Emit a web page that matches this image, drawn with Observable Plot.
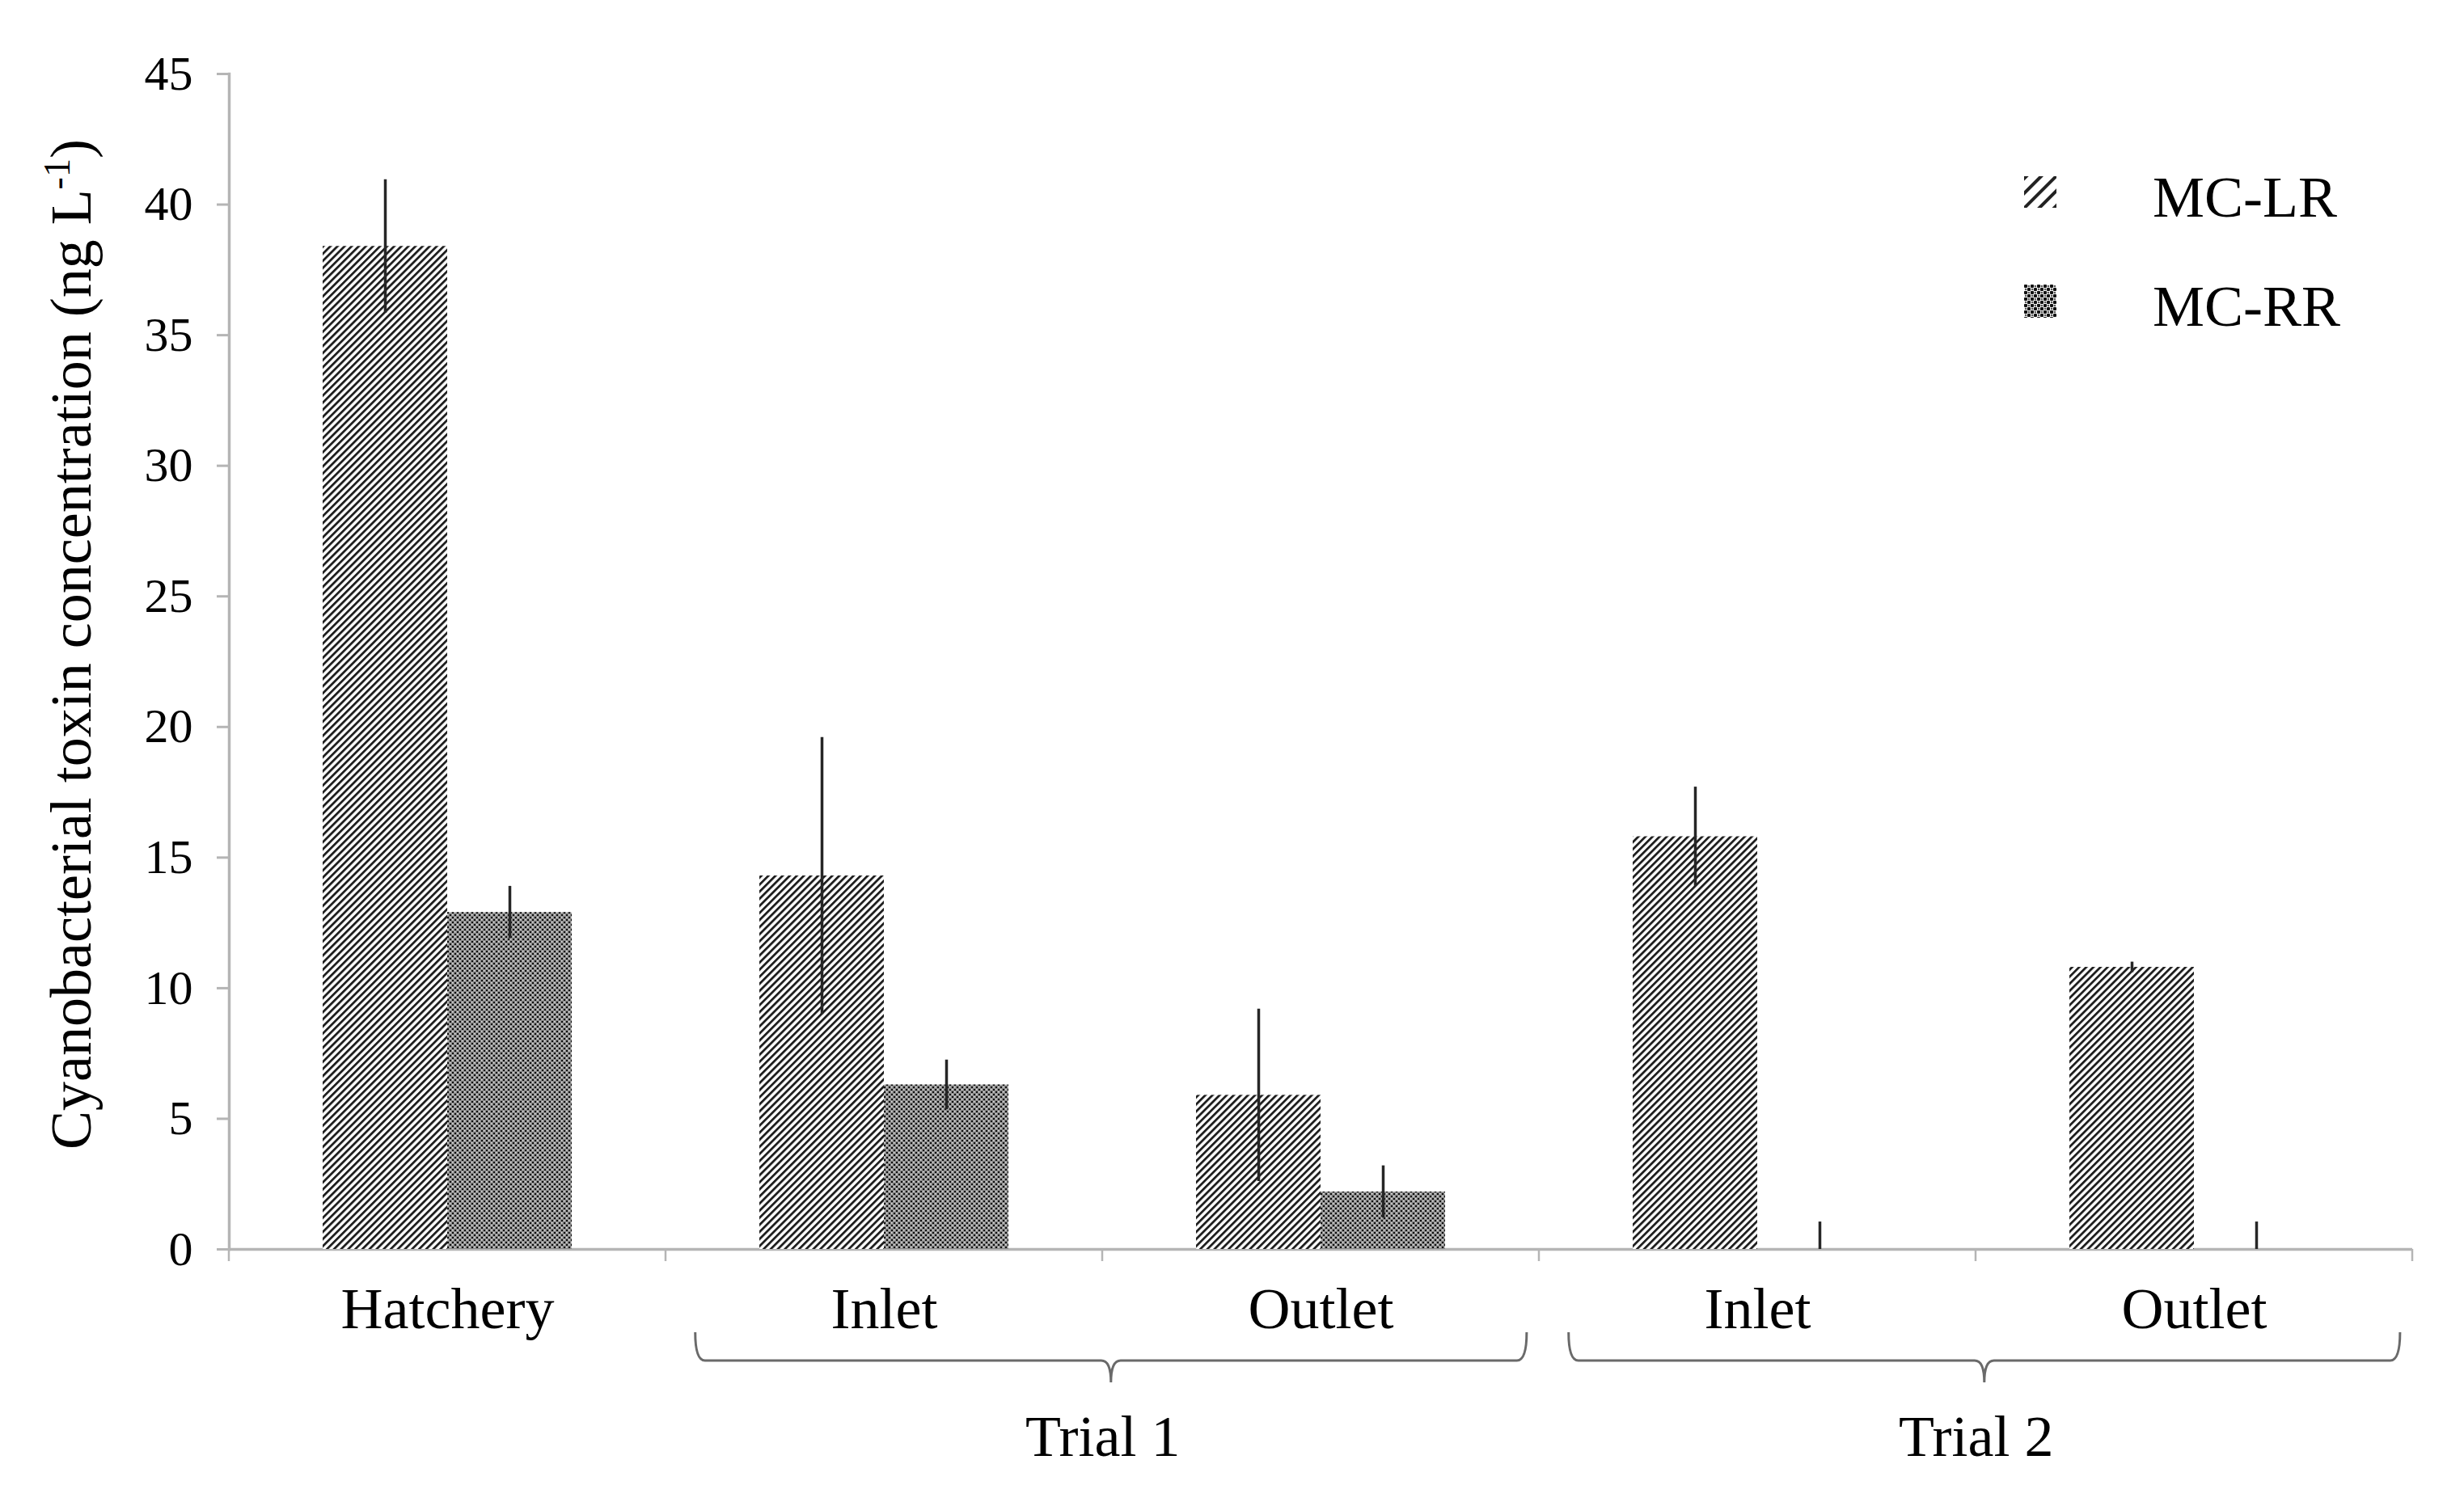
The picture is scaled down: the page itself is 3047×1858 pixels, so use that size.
<!DOCTYPE html>
<html>
<head>
<meta charset="utf-8">
<script src="https://cdn.jsdelivr.net/npm/d3@7"></script>
<script src="https://cdn.jsdelivr.net/npm/@observablehq/plot@0.6"></script>
<style>
  html, body { margin: 0; padding: 0; background: #fff; }
  svg { display: block; }
</style>
</head>
<body>
<div id="chart"></div>
<script>
// ---- data ----
const sites = ["Hatchery", "Trial 1 Inlet", "Trial 1 Outlet", "Trial 2 Inlet", "Trial 2 Outlet"];
const siteLabels = ["Hatchery", "Inlet", "Outlet", "Inlet", "Outlet"];
const toxins = ["MC-LR", "MC-RR"];
const mcLR = [38.4, 14.3, 5.9, 15.8, 10.8];
const mcLRErr = [2.55, 5.3, 3.3, 1.9, 0.2];
const mcRR = [12.9, 6.3, 2.2, 0, 0];
const mcRRErr = [1.0, 0.95, 1.0, 1.05, 1.05];
const yTicks = [0, 5, 10, 15, 20, 25, 30, 35, 40, 45];
const trials = ["Trial 1", "Trial 2"];
const trialSites = [["Trial 1 Inlet", "Trial 1 Outlet"], ["Trial 2 Inlet", "Trial 2 Outlet"]];
const yTitle = "Cyanobacterial toxin concentration (ng L";
const yTitleSup = "-1";

// ---- table built from the arrays ----
const rows = [
  ...sites.map((s, i) => ({site: s, toxin: toxins[0], value: mcLR[i], err: mcLRErr[i]})),
  ...sites.map((s, i) => ({site: s, toxin: toxins[1], value: mcRR[i], err: mcRRErr[i]}))
];
const lrRows = rows.filter(d => d.toxin === toxins[0]);
const rrRows = rows.filter(d => d.toxin === toxins[1]);

const W = 3047, H = 1858;
const axisGray = "#b5b5b5";
const FONT = "'Liberation Serif', 'Times New Roman', serif";

const chart = Plot.plot({
  width: W,
  height: H,
  marginLeft: 282,
  marginRight: 64,
  marginTop: 91,
  marginBottom: 313,
  style: {fontFamily: FONT, fontSize: "60px", color: "#000", background: "#fff"},
  fx: {domain: sites, padding: 0},
  x: {domain: toxins, paddingInner: 0, paddingOuter: 0.75, axis: null},
  y: {domain: [0, 45], axis: null},
  marks: [
    Plot.ruleY([0], {stroke: axisGray, strokeWidth: 3.5}),
    Plot.frame({anchor: "left", facet: "super", stroke: axisGray, strokeWidth: 3.5}),
    Plot.axisY({
      ticks: yTicks,
      tickSize: 15,
      tickPadding: 30,
      stroke: axisGray,
      strokeWidth: 3,
      color: "#000",
      fontSize: 60,
      label: null
    }),
    Plot.axisFx({
      anchor: "bottom",
      tickSize: 0,
      tickPadding: 46,
      fontSize: 72,
      color: "#000",
      label: null,
      tickFormat: d => siteLabels[sites.indexOf(d)]
    }),
    Plot.barY(lrRows, {fx: "site", x: "toxin", y: "value", fill: "url(#hatchLR)"}),
    Plot.barY(rrRows, {fx: "site", x: "toxin", y: "value", fill: "url(#dotsRR)"}),
    Plot.ruleX(rows, {
      fx: "site",
      x: "toxin",
      y1: d => Math.max(0, d.value - d.err),
      y2: d => d.value + d.err,
      stroke: "#262626",
      strokeWidth: 3.5
    })
  ]
});

document.getElementById("chart").appendChild(chart);

// ---- patterns ----
const svg = d3.select(chart);
const defs = svg.insert("defs", ":first-child");

const pLR = defs.append("pattern")
  .attr("id", "hatchLR").attr("patternUnits", "userSpaceOnUse")
  .attr("width", 6.2).attr("height", 6.2)
  .attr("patternTransform", "rotate(45)");
pLR.append("rect").attr("width", 6.2).attr("height", 6.2).attr("fill", "#fff");
pLR.append("rect").attr("x", 0).attr("y", 0).attr("width", 2.8).attr("height", 6.2).attr("fill", "#1e1e1e");

const pRR = defs.append("pattern")
  .attr("id", "dotsRR").attr("patternUnits", "userSpaceOnUse")
  .attr("width", 6).attr("height", 6);
pRR.append("rect").attr("width", 6).attr("height", 6).attr("fill", "#8a8a8a");
pRR.append("rect").attr("x", 0).attr("y", 0).attr("width", 2).attr("height", 2).attr("fill", "#111");
pRR.append("rect").attr("x", 3).attr("y", 3).attr("width", 2).attr("height", 2).attr("fill", "#111");
pRR.append("rect").attr("x", 3).attr("y", 0).attr("width", 1.5).attr("height", 1.5).attr("fill", "#e0e0e0");
pRR.append("rect").attr("x", 0).attr("y", 3).attr("width", 1.5).attr("height", 1.5).attr("fill", "#e0e0e0");

const pLRLeg = defs.append("pattern")
  .attr("id", "hatchLRLegend").attr("patternUnits", "userSpaceOnUse")
  .attr("width", 13).attr("height", 13)
  .attr("patternTransform", "translate(2503,218) rotate(45)");
pLRLeg.append("rect").attr("width", 13).attr("height", 13).attr("fill", "#fff");
pLRLeg.append("rect").attr("x", 0).attr("width", 4).attr("height", 13).attr("fill", "#222");

const pRRLeg = defs.append("pattern")
  .attr("id", "dotsRRLegend").attr("patternUnits", "userSpaceOnUse")
  .attr("width", 8).attr("height", 8)
  .attr("patternTransform", "translate(2503,352)");
pRRLeg.append("rect").attr("width", 8).attr("height", 8).attr("fill", "#fff");
pRRLeg.append("circle").attr("cx", 2).attr("cy", 2).attr("r", 2.3).attr("fill", "#111");
pRRLeg.append("circle").attr("cx", 6).attr("cy", 6).attr("r", 2.3).attr("fill", "#111");
pRRLeg.append("circle").attr("cx", 6).attr("cy", 2).attr("r", 1.2).attr("fill", "#555");
pRRLeg.append("circle").attr("cx", 2).attr("cy", 6).attr("r", 1.2).attr("fill", "#555");

// ---- extras drawn from Plot's scales ----
const fx = chart.scale("fx");
const y = chart.scale("y");
const y0 = y.apply(0);
const bw = fx.bandwidth;
const extras = svg.append("g").attr("font-family", FONT).attr("text-anchor", "start");

// boundary ticks below the x axis
const edges = sites.map(s => fx.apply(s)).concat([fx.apply(sites[sites.length - 1]) + bw]);
extras.selectAll("line.edge").data(edges).join("line")
  .attr("x1", d => d).attr("x2", d => d)
  .attr("y1", y0).attr("y2", y0 + 15)
  .attr("stroke", axisGray).attr("stroke-width", 2.5);

// braces and trial labels
const braceTop = y0 + 103, braceMid = y0 + 138, braceTip = y0 + 165;
trials.forEach((t, k) => {
  const a = fx.apply(trialSites[k][0]) + 0.068 * bw;
  const b = fx.apply(trialSites[k][1]) + bw - 0.028 * bw;
  const c = (a + b) / 2;
  const r = 12;
  const path = `M${a},${braceTop} Q${a},${braceMid} ${a + r},${braceMid} L${c - r},${braceMid} Q${c},${braceMid} ${c},${braceTip} Q${c},${braceMid} ${c + r},${braceMid} L${b - r},${braceMid} Q${b},${braceMid} ${b},${braceTop}`;
  extras.append("path").attr("d", path).attr("fill", "none")
    .attr("stroke", "#6a6a6a").attr("stroke-width", 3);
  extras.append("text").attr("x", c - 10).attr("y", y0 + 256)
    .attr("text-anchor", "middle").attr("font-size", 72).attr("fill", "#000").text(t);
});

// legend
const legend = extras.append("g").attr("text-anchor", "start");
legend.append("rect").attr("x", 2503).attr("y", 218).attr("width", 40).attr("height", 39).attr("fill", "url(#hatchLRLegend)");
legend.append("rect").attr("x", 2503).attr("y", 352).attr("width", 40).attr("height", 41).attr("fill", "url(#dotsRRLegend)");
legend.append("text").attr("x", 2662).attr("y", 268).attr("font-size", 72).attr("fill", "#000").text(toxins[0]);
legend.append("text").attr("x", 2662).attr("y", 403).attr("font-size", 72).attr("fill", "#000").text(toxins[1]);

// y-axis title with superscript
const yt = extras.append("text")
  .attr("transform", `translate(112,${(y.apply(45) + y0) / 2 - 21}) rotate(-90)`)
  .attr("text-anchor", "middle").attr("font-size", 72).attr("fill", "#000");
yt.append("tspan").text(yTitle);
yt.append("tspan").attr("font-size", 46).attr("dy", -26).text(yTitleSup);
yt.append("tspan").attr("dy", 26).text(")");
</script>
</body>
</html>
